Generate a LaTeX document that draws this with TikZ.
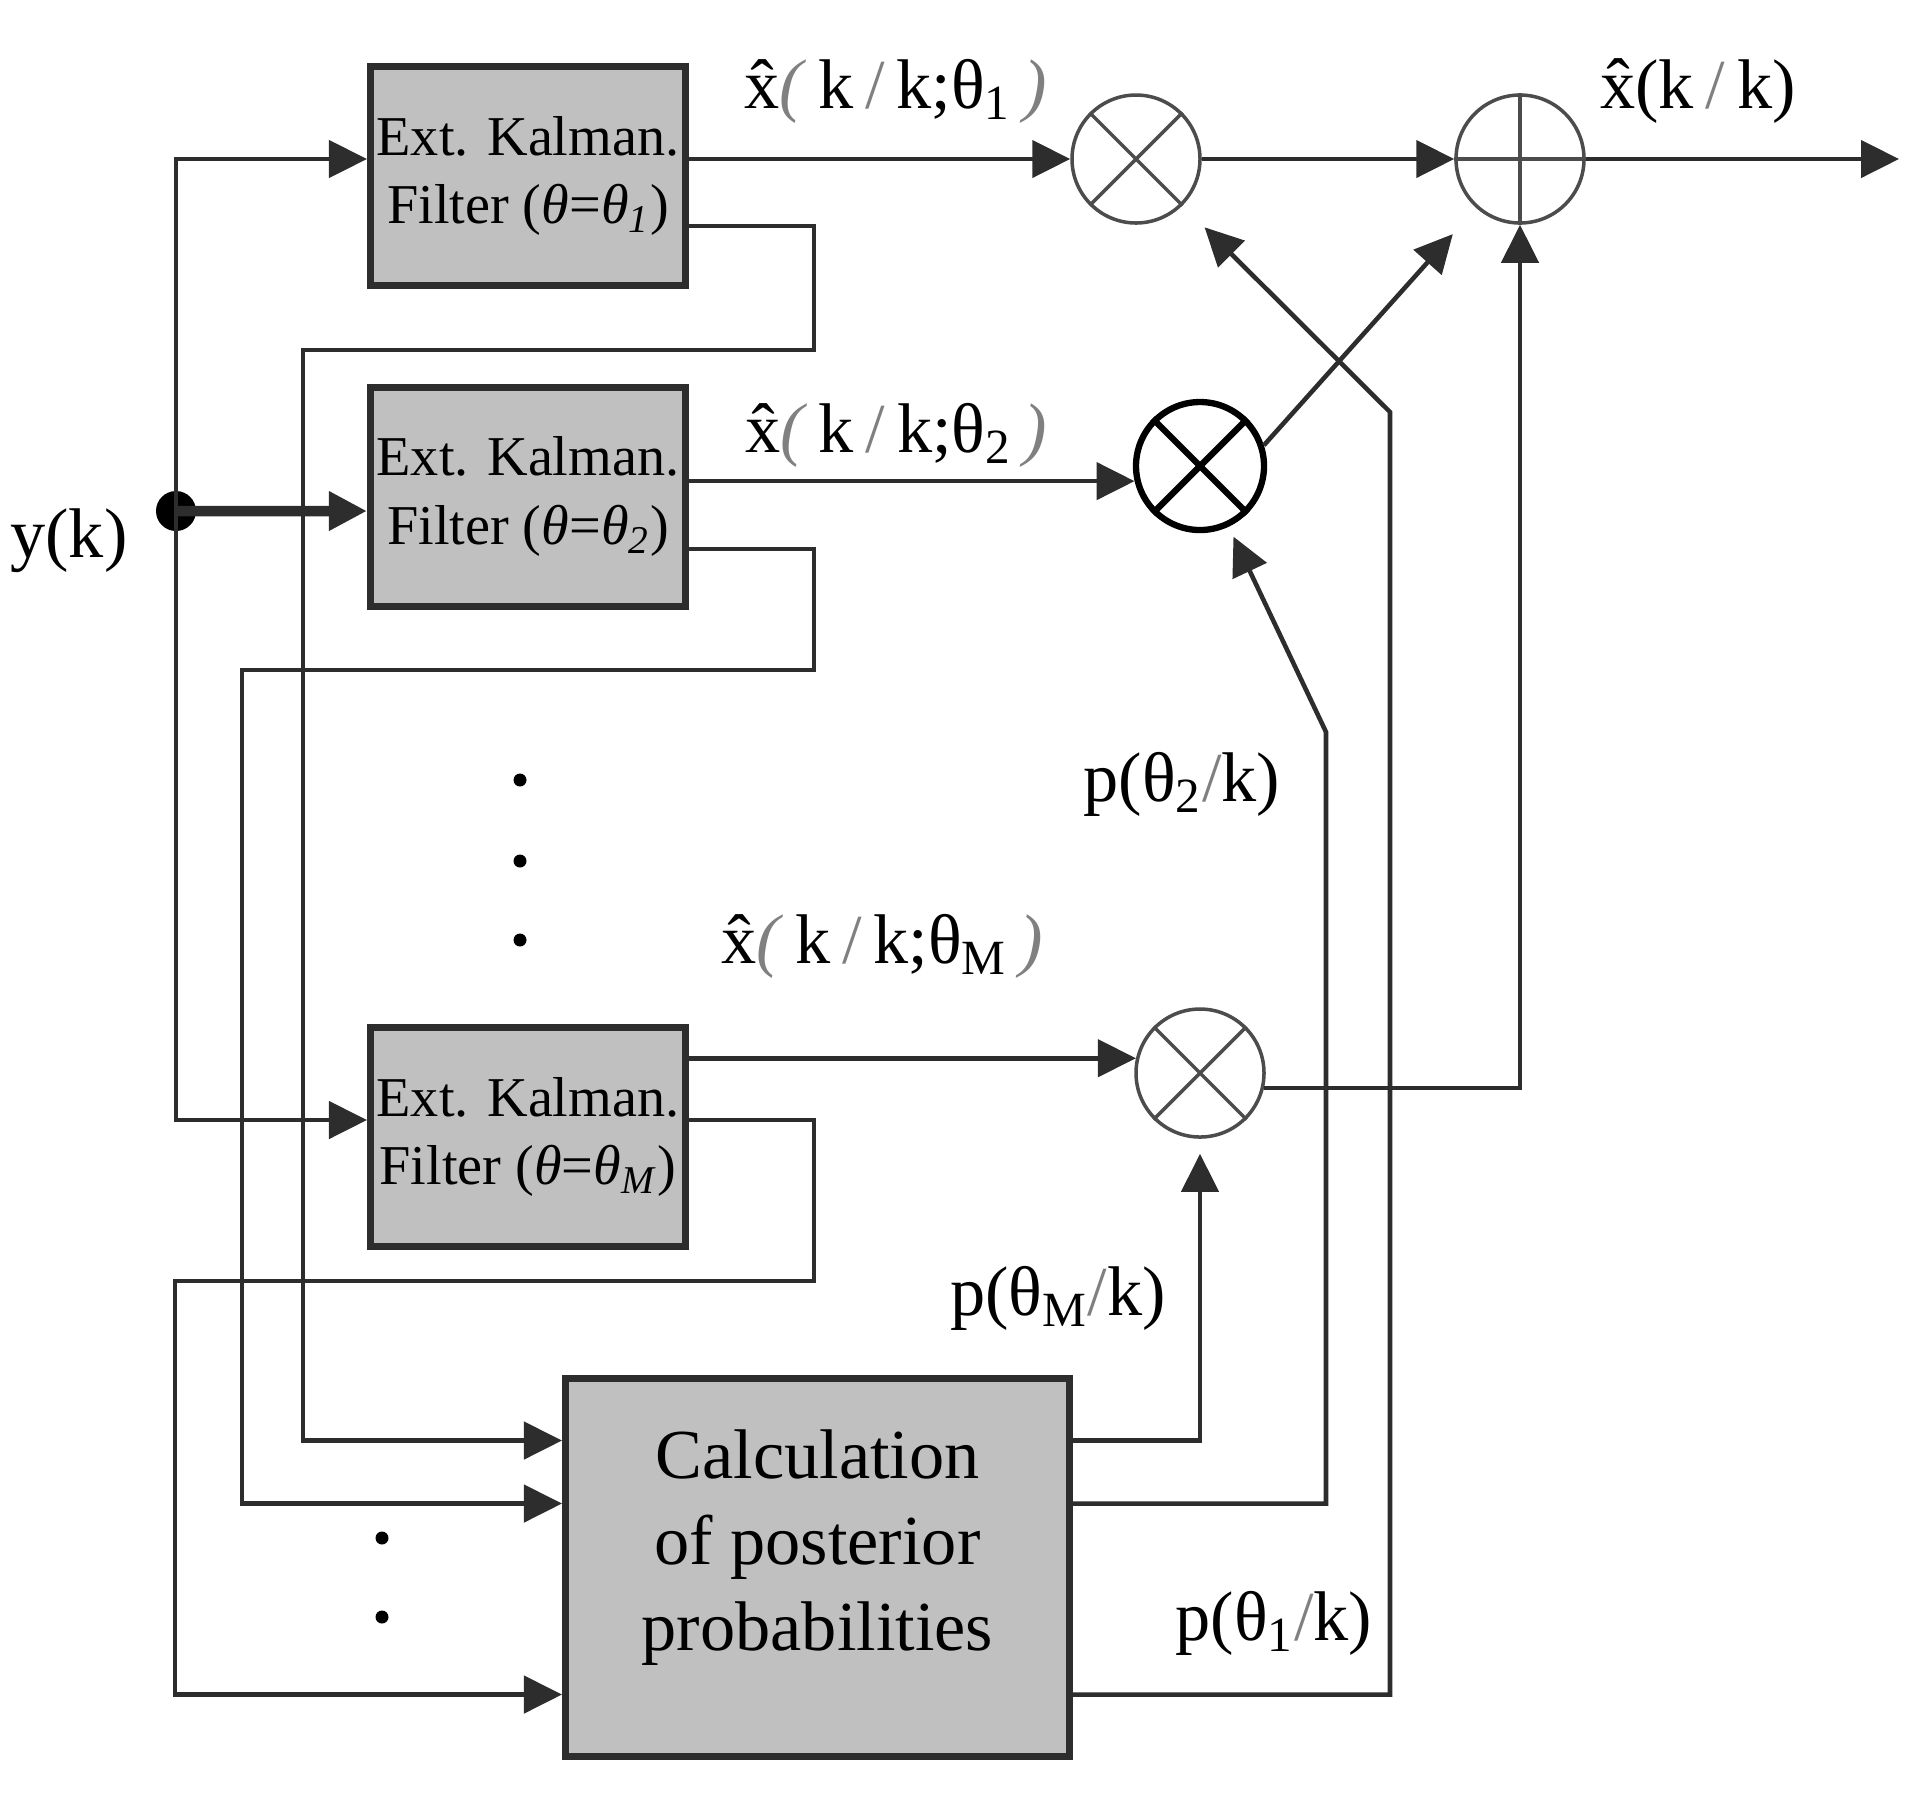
\documentclass[tikz,border=0pt]{standalone}
\usepackage{fontspec}
\setmainfont{Liberation Serif}
\usetikzlibrary{arrows.meta}
\definecolor{boxgray}{RGB}{192,192,192}
\definecolor{linegray}{RGB}{45,45,45}
\begin{document}
\begin{tikzpicture}[
    sig/.style={draw=linegray, line width=1.3pt},
    arr/.style={sig, -{Triangle[length=3.8mm,width=3.7mm]}},
    ekf/.style={draw=linegray, line width=2pt, fill=boxgray, minimum width=3.15cm,
        minimum height=2.19cm, inner sep=0pt, align=center, font=\fontsize{16}{19.5}\selectfont},
    calcbox/.style={ekf, minimum width=5.04cm, minimum height=3.78cm, font=\fontsize{20}{24.5}\selectfont},
    junc/.style={circle, draw=black!70, line width=1pt, minimum size=1.28cm, inner sep=0pt},
    lbl/.style={font=\fontsize{20}{24}\selectfont, inner sep=0pt}]
    \useasboundingbox (0,0) rectangle (19.06,-18);
    % filters and probability block
    \node[ekf] (f1) at (5.28,-1.76) {Ext. Kalman.\\Filter (\textit{θ}=\textit{θ}\textsubscript{\textit{1}})};
    \node[ekf] (f2) at (5.28,-4.965) {Ext. Kalman.\\Filter (\textit{θ}=\textit{θ}\textsubscript{\textit{2}})};
    \node[ekf] (fM) at (5.28,-11.37) {Ext. Kalman.\\Filter (\textit{θ}=\textit{θ}\textsubscript{\textit{M}})};
    \node[calcbox] (calc) at (8.175,-15.675) {Calculation\\of posterior\\probabilities\\[-0.32cm]\mbox{}};
    % multipliers and adder
    \node[junc] (m1) at (11.36,-1.59) {};
    \node[junc, draw=black, line width=1.8pt] (m2) at (12.00,-4.66) {};
    \node[junc] (mM) at (12.00,-10.73) {};
    \node[junc] (add) at (15.20,-1.59) {};
    \foreach \m in {m1,mM}
        \draw[black!70, line width=1pt] (\m.45) -- (\m.225) (\m.135) -- (\m.-45);
    \draw[black, line width=1.8pt] (m2.45) -- (m2.225) (m2.135) -- (m2.-45);
    \draw[black!70, line width=1pt] (add.north) -- (add.south) (add.west) -- (add.east);
    % input y(k)
    \coordinate (yk) at (1.76,-5.11);
    \coordinate (out) at (18.99,-1.59);
    \node[lbl] (lyk) at (0.69,-5.41) {y(k)};
    \fill[black] (yk) circle (0.2);
    \draw[arr] (yk) |- ([yshift=1.7mm]f1.west);
    \draw[arr] (yk) |- ([yshift=1.7mm]fM.west);
    \draw[arr, line width=3pt] (yk) -- ([yshift=-1.45mm]f2.west);
    % estimates to multipliers
    \draw[arr] (f1.east |- m1.west) -- (m1.west);
    \draw[arr] (f2.east |- m2.193) -- (m2.193);
    \draw[arr] (fM.east |- mM.167) -- (mM.167);
    \draw[arr] (m1.east) -- (add.west);
    \draw[arr, shorten >=0.35cm] (m2.18) -- (add);
    \draw[arr] (mM.-13) -| (add.south);
    \draw[arr] (add.east) -- (out);
    % feedback to probability block
    \draw[arr] ([yshift=-5mm]f1.east) -| (8.14,-3.50) -| (3.03,-10) |- ([yshift=1.27cm]calc.west);
    \draw[arr] ([yshift=-5.25mm]f2.east) -| (8.14,-6.70) -| (2.42,-10) |- ([yshift=0.64cm]calc.west);
    \draw[arr] ([yshift=1.7mm]fM.east) -| (8.14,-12.81) -| (1.75,-14) |- ([yshift=-1.27cm]calc.west);
    % probabilities to multipliers
    \draw[arr, shorten >=0.15cm] ([yshift=1.27cm]calc.east) -| (mM.south);
    \draw[arr, shorten >=0.11cm] ([yshift=0.64cm]calc.east) -| (13.26,-7.32) -- (m2);
    \draw[arr, shorten >=0.31cm] ([yshift=-1.27cm]calc.east) -| (13.90,-4.12) -- (m1);
    % labels
    \node[lbl] (lx1) at (8.955,-0.91) {\^{x}\textcolor{gray}{\textit{(}}\,k\,\textcolor{gray}{/}\,k;θ\textsubscript{1}\,\textcolor{gray}{\textit{)}}};
    \node[lbl] (lx2) at (8.96,-4.35) {\^{x}\textcolor{gray}{\textit{(}}\,k\,\textcolor{gray}{/}\,k;θ\textsubscript{2}\,\textcolor{gray}{\textit{)}}};
    \node[lbl] (lxM) at (8.82,-9.46) {\^{x}\textcolor{gray}{\textit{(}}\,k\,\textcolor{gray}{/}\,k;θ\textsubscript{M}\,\textcolor{gray}{\textit{)}}};
    \node[lbl] (lout) at (16.98,-0.91) {\^{x}(k\,\textcolor{gray}{/}\,k)};
    \node[lbl] (lp2) at (11.82,-7.84) {p(θ\textsubscript{2}\textcolor{gray}{/}k)};
    \node[lbl] (lpM) at (10.58,-12.98) {p(θ\textsubscript{M}\textcolor{gray}{/}k)};
    \node[lbl] (lp1) at (12.74,-16.23) {p(θ\textsubscript{1}\textcolor{gray}{/}k)};
    % dots
    \foreach \y in {7.80,8.61,9.40}
        \fill[black] (5.20,-\y) circle (0.065);
    \foreach \y in {15.38,16.17}
        \fill[black] (3.82,-\y) circle (0.065);
\end{tikzpicture}
\end{document}
